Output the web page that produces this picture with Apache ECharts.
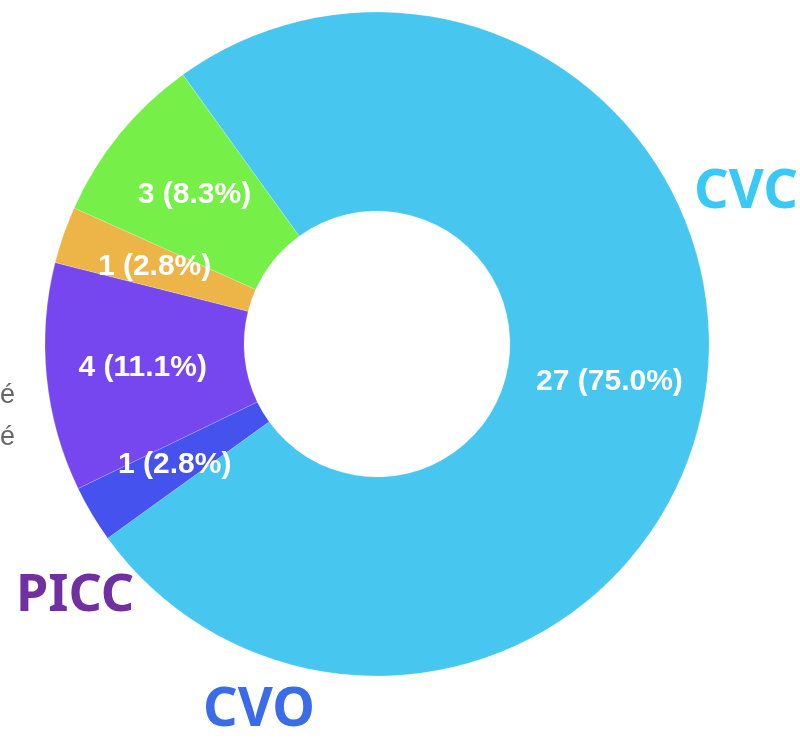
<!DOCTYPE html>
<html lang="fr">
<head>
    <meta charset="utf-8">
    <title>Cathéters</title>
    <script src="https://cdn.jsdelivr.net/npm/echarts@6/dist/echarts.min.js"></script>
    <style>
        html, body { margin: 0; padding: 0; background: #fff; }
        #chart { width: 800px; height: 739px; }
    </style>
</head>
<body>
<div id="chart"></div>
<script type="text/javascript">
// donnees du graphique
var names = ['CVC', 'CVO', 'PICC', 'Autre 1', 'Autre 2'];
var values = [27, 1, 4, 1, 3];
var colors = ['#47C7EF', '#4652EE', '#7646EE', '#EDB547', '#76F048'];

// annotations autour du donut
var tags = ['CVC', 'PICC', 'CVO'];
var tagColors = ['#38C9F7', '#7030A0', '#3A6CEA'];

var total = values.reduce(function (a, b) { return a + b; }, 0);

var myChart = echarts.init(document.getElementById('chart'));

var option = {
    animation: false,
    series: [
        {
            type: 'pie',
            center: [377, 344],
            radius: [133, 332],
            startAngle: 125.8,
            clockwise: true,
            avoidLabelOverlap: false,
            itemStyle: {
                borderColor: 'rgba(255,255,255,0.35)',
                borderWidth: 0.5
            },
            label: {
                show: true,
                position: 'inside',
                color: '#fff',
                fontFamily: 'Liberation Sans, Arial, sans-serif',
                fontWeight: 'bold',
                fontSize: 30,
                formatter: function (p) {
                    return p.value + ' (' + (p.value / total * 100).toFixed(1) + '%)';
                }
            },
            labelLine: { show: false },
            data: names.map(function (n, i) {
                return { name: n, value: values[i], itemStyle: { color: colors[i] } };
            })
        }
    ],
    graphic: [
        {
            type: 'text', left: 694, top: 166,
            style: { text: tags[0], fill: tagColors[0], font: 'bold 54px "Noto Sans", sans-serif' }
        },
        {
            type: 'text', left: 16, top: 570,
            style: { text: tags[1], fill: tagColors[1], font: 'bold 52px "Noto Sans", sans-serif' }
        },
        {
            type: 'text', left: 203, top: 684,
            style: { text: tags[2], fill: tagColors[2], font: 'bold 54px "Noto Sans", sans-serif' }
        },
        {
            type: 'text', left: 0, top: 382,
            style: { text: 'é', fill: '#666', font: '27px "Liberation Sans", sans-serif' }
        },
        {
            type: 'text', left: 0, top: 424,
            style: { text: 'é', fill: '#666', font: '27px "Liberation Sans", sans-serif' }
        }
    ]
};

myChart.setOption(option);
</script>
</body>
</html>
